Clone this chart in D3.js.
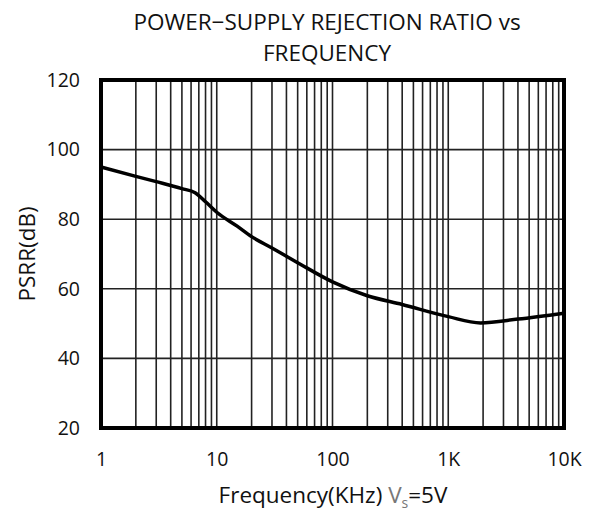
<!DOCTYPE html>
<html>
<head>
<meta charset="utf-8">
<script src="https://cdn.jsdelivr.net/npm/d3@7"></script>
<style>
  body { margin: 0; background: #fff; }
  text { font-family: "Open Sans", "Noto Sans", sans-serif; fill: #111; }
</style>
</head>
<body>
<svg id="chart"></svg>
<script>
// Curve readings (frequency in kHz, PSRR in dB)
const freqKHz = [1, 2, 3, 5, 6.5, 8, 10, 15, 20, 30, 50, 100, 200, 400, 1000, 1900, 4000, 10000];
const psrrDb = [95, 92.3, 90.8, 88.8, 87.6, 85, 82, 78, 75, 71.7, 67.5, 62, 58, 55.5, 52, 50.2, 51.3, 53];

const xTicks = [1, 10, 100, 1000, 10000];
const xTickLabels = ['1', '10', '100', '1K', '10K'];
const yTicks = [20, 40, 60, 80, 100, 120];

const width = 592, height = 513;
const margin = {top: 80, right: 28, bottom: 85, left: 101};
const innerW = width - margin.left - margin.right;
const innerH = height - margin.top - margin.bottom;

const svg = d3.select('#chart')
    .attr('width', width)
    .attr('height', height);

const chart = svg.append('g')
    .attr('transform', `translate(${margin.left},${margin.top})`);

const xScale = d3.scaleLog().domain([1, 10000]).range([0, innerW]);
const yScale = d3.scaleLinear().domain([20, 120]).range([innerH, 0]);

// minor + major vertical grid lines (2..10 per decade)
const vLines = [];
for (let dec = 1; dec < 10000; dec *= 10) {
  for (let m = 2; m <= 10; m++) vLines.push(dec * m);
}
chart.selectAll('.vgrid')
    .data(vLines.filter(v => v < 10000))
  .join('line')
    .attr('class', 'vgrid')
    .attr('x1', d => xScale(d)).attr('x2', d => xScale(d))
    .attr('y1', 0).attr('y2', innerH)
    .attr('stroke', '#222').attr('stroke-width', 1.6);

chart.selectAll('.hgrid')
    .data(yTicks.slice(1, -1))
  .join('line')
    .attr('class', 'hgrid')
    .attr('x1', 0).attr('x2', innerW)
    .attr('y1', d => yScale(d)).attr('y2', d => yScale(d))
    .attr('stroke', '#222').attr('stroke-width', 1.6);

// frame
chart.append('rect')
    .attr('width', innerW).attr('height', innerH)
    .attr('fill', 'none')
    .attr('stroke', '#000').attr('stroke-width', 4);

// data curve
const line = d3.line()
    .x((d, i) => xScale(freqKHz[i]))
    .y(d => yScale(d))
    .curve(d3.curveMonotoneX);

chart.append('path')
    .datum(psrrDb)
    .attr('d', line)
    .attr('fill', 'none')
    .attr('stroke', '#000')
    .attr('stroke-width', 3.5);

// axes labels
const xAxis = d3.axisBottom(xScale)
    .tickValues(xTicks)
    .tickFormat((d, i) => xTickLabels[i])
    .tickSize(0).tickPadding(24);
const xAxisG = chart.append('g')
    .attr('transform', `translate(0,${innerH})`)
    .call(xAxis);

const yAxis = d3.axisLeft(yScale)
    .tickValues(yTicks)
    .tickSize(0).tickPadding(21);
const yAxisG = chart.append('g').call(yAxis);

[xAxisG, yAxisG].forEach(g => {
  g.select('.domain').remove();
  g.selectAll('text')
      .attr('font-size', 19.5)
      .attr('font-family', '"Open Sans", sans-serif')
      .attr('fill', '#111');
});

// titles
svg.append('text')
    .attr('x', 327).attr('y', 30)
    .attr('text-anchor', 'middle')
    .attr('font-size', 22.5)
    .text('POWER\u2212SUPPLY REJECTION RATIO vs');
svg.append('text')
    .attr('x', 327).attr('y', 61)
    .attr('text-anchor', 'middle')
    .attr('font-size', 22.5)
    .text('FREQUENCY');

svg.append('text')
    .attr('transform', 'translate(35,254) rotate(-90)')
    .attr('text-anchor', 'middle')
    .attr('font-size', 22.5)
    .text('PSRR(dB)');

const xt = svg.append('text')
    .attr('x', 333).attr('y', 503)
    .attr('text-anchor', 'middle')
    .attr('font-size', 22.5);
xt.append('tspan').text('Frequency(KHz) ');
xt.append('tspan').attr('fill', '#777').text('V');
xt.append('tspan').attr('fill', '#777').attr('font-size', 14).attr('dy', 5).text('s');
xt.append('tspan').attr('dy', -5).text('=5V');
</script>
</body>
</html>
